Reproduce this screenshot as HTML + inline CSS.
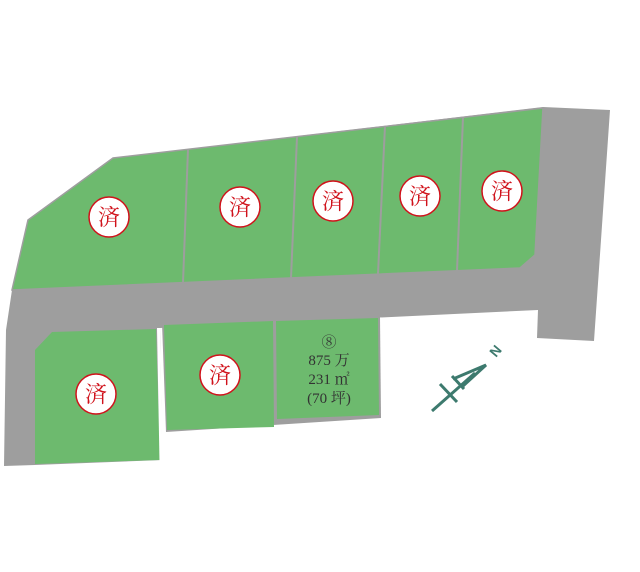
<!DOCTYPE html>
<html><head><meta charset="utf-8"><style>body{margin:0;background:#fff}svg{display:block}</style></head><body>
<svg width="640" height="572" viewBox="0 0 640 572" xmlns="http://www.w3.org/2000/svg">
<polygon points="28,220 113,158 543,107 610,110 594,341 537,338 538,310 160,328 162,460 35,465 4,466 6,330 12,290" fill="#9e9e9e"/>
<polygon points="28,220 113,158 543,108 535,255 520,268 12,290" fill="#6dba6e" stroke="#9e9e9e" stroke-width="1.5"/>
<g stroke="#9e9e9e" stroke-width="2">
<line x1="188" y1="149" x2="183" y2="283"/>
<line x1="297" y1="137" x2="291" y2="278"/>
<line x1="385" y1="126" x2="378" y2="274"/>
<line x1="463" y1="117" x2="457" y2="271"/>
</g>
<polygon points="35,350 52,332 156,329 160,460 35,464" fill="#6dba6e"/>
<line x1="158.5" y1="328" x2="161" y2="462" stroke="#fff" stroke-width="3"/>
<polygon points="162,323 380,317 381,418 166,432" fill="#9e9e9e"/>
<polygon points="164,325 273,321 274,427 167,430" fill="#6dba6e"/>
<polygon points="276,321 378,318 379,415 277,419" fill="#6dba6e"/>
<g fill="#fff" stroke="#d0121b" stroke-width="1.5">
<circle cx="109" cy="217" r="20"/><circle cx="240" cy="207" r="20"/><circle cx="333" cy="201" r="20"/><circle cx="420" cy="196" r="20"/><circle cx="502" cy="191" r="20"/><circle cx="96" cy="394" r="20"/><circle cx="220" cy="375" r="20"/>
</g>
<g fill="#d0121b" font-family="'Noto Serif CJK SC','Noto Sans CJK JP',serif" font-size="22" text-anchor="middle">
<text x="109" y="225">済</text><text x="240" y="215">済</text><text x="333" y="209">済</text><text x="420" y="204">済</text><text x="502" y="199">済</text><text x="96" y="402">済</text><text x="220" y="383">済</text>
</g>
<g fill="#333" font-family="'Liberation Serif','Noto Serif CJK SC',serif" font-size="15" text-anchor="middle">
<text x="329" y="347">⑧</text>
<text x="329" y="365">875 万</text>
<text x="329" y="384">231 ㎡</text>
<text x="329" y="403">(70 坪)</text>
</g>
<g stroke="#3d7a6e" stroke-width="3" fill="none" stroke-linejoin="miter">
<line x1="432" y1="411" x2="475" y2="373"/>
<line x1="440" y1="384" x2="457" y2="402"/>
<line x1="452" y1="376" x2="464" y2="389"/>
<polyline points="453,379 486,365 463,386"/>
</g>
<text x="496" y="358" fill="#3d7a6e" font-family="'Liberation Sans',sans-serif" font-size="14" font-weight="bold" transform="rotate(-50 496 358)">N</text>
</svg>
</body></html>
